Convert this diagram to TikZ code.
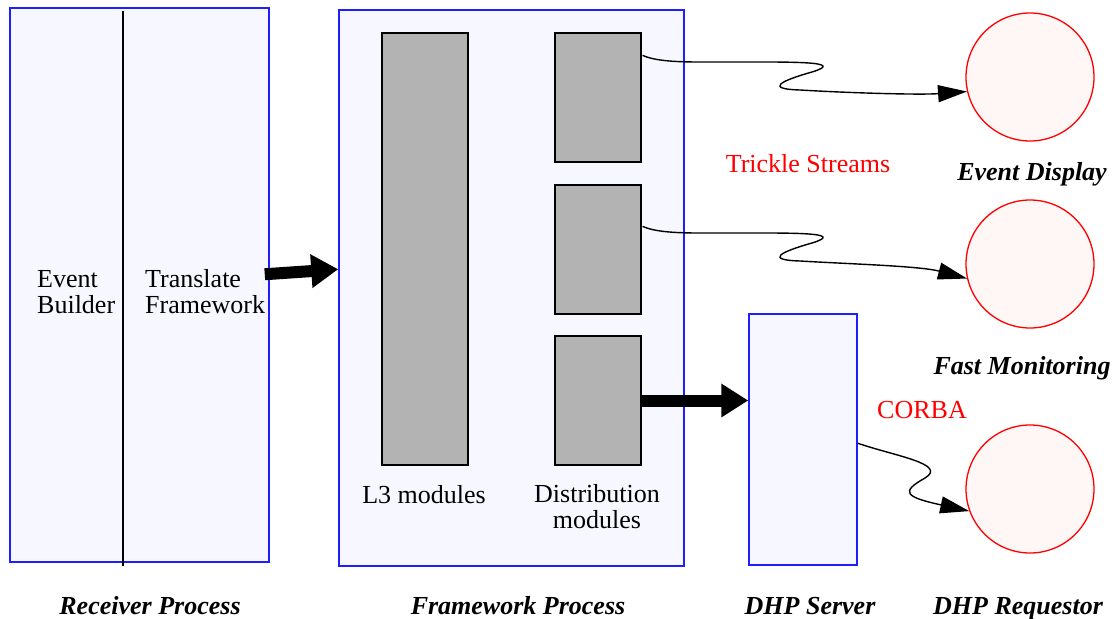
\documentclass[tikz,border=0pt]{standalone}
\usepackage{fontspec}
\setmainfont{Liberation Serif}
\usetikzlibrary{arrows.meta,calc}
\definecolor{boxfill}{RGB}{247,247,255}
\definecolor{boxblue}{RGB}{30,30,255}
\definecolor{modgray}{RGB}{179,179,179}
\definecolor{circfill}{RGB}{255,246,246}
\tikzset{
  procbox/.style={draw=boxblue, fill=boxfill, line width=1.5pt, inner sep=0pt},
  modbox/.style={draw=black, fill=modgray, line width=1.2pt, inner sep=0pt, minimum width=86pt},
  endpoint/.style={circle, draw=red, fill=circfill, line width=1.3pt, minimum size=128pt, inner sep=0pt},
  txt/.style={font=\fontsize{26}{26}\selectfont, inner sep=0pt},
  title/.style={font=\fontsize{26}{26}\selectfont\bfseries\itshape, inner sep=0pt, anchor=base},
  redtxt/.style={txt, text=red, anchor=base},
  wavy/.style={draw=black, line width=1.4pt, -{Triangle[length=29pt,width=17pt]}},
  bigarrow/.style={draw=black, line width=12pt, -{Triangle[length=27pt,width=32pt]}},
  divider/.style={draw=black, line width=1.2pt}
}
\begin{document}
\begin{tikzpicture}[x=1pt,y=-1pt]
\useasboundingbox (0,0) rectangle (1115,618);
% process boxes
\node[procbox, minimum width=259pt, minimum height=554pt] (r) at (139.5,285) {};
\node[procbox, minimum width=345pt, minimum height=556pt] (f) at (511.5,288) {};
\node[procbox, minimum width=108pt, minimum height=251pt] (s) at (803,439.5) {};
\draw[divider] (123,11) -- (123,566);
% modules
\node[modbox, minimum height=432pt] (l3) at (425,249) {};
\node[modbox, minimum height=129pt] (d1) at (598,97.5) {};
\node[modbox, minimum height=129pt] (d2) at (598,249.5) {};
\node[modbox, minimum height=129pt] (d3) at (598,400.5) {};
% endpoints
\node[endpoint] (c1) at (1030,77) {};
\node[endpoint] (c2) at (1030,264) {};
\node[endpoint] (c3) at (1030,489) {};
% texts
\node[txt, align=left, anchor=west] (eb) at (37,292) {Event\\Builder};
\node[txt, align=left, anchor=west] (tf) at (145,292) {Translate\\Framework};
\node[txt, anchor=base] (l3t) at (424,503) {L3 modules};
\node[txt, align=center] (dmt) at (597,507) {Distribution\\modules};
\node[redtxt] (ts) at (808,172) {Trickle Streams};
\node[redtxt] (cb) at (922,418) {CORBA};
\node[title] (ed) at (1032,180) {Event Display};
\node[title] (fm) at (1022,374) {Fast Monitoring};
\node[title] (dr) at (1018,614) {DHP Requestor};
\node[title] (ds) at (810,614) {DHP Server};
\node[title] (fp) at (518,614) {Framework Process};
\node[title] (rp) at (150,614) {Receiver Process};
% thick arrows
\draw[bigarrow] ($(r.north east)+(-5,267)$) -- ($(f.north west)+(0,260)$);
\draw[bigarrow] (d3.east) -- (d3.east -| s.west);
% wavy connectors
\draw[wavy] ($(d1.north east)+(1,23)$) .. controls (660,63) and (690,62) .. (730,62)
  .. controls (790,62) and (848,61) .. (812,72)
  .. controls (780,81) and (765,89) .. (800,90)
  .. controls (850,93) and (920,95) .. (c1.193);
\draw[wavy] ($(d2.north east)+(1,42)$) .. controls (660,234) and (690,233) .. (730,233)
  .. controls (790,233) and (848,232) .. (812,243)
  .. controls (780,252) and (765,260) .. (800,261)
  .. controls (850,264) and (920,266) .. (c2.193);
\draw[wavy] ($(s.north east)+(0,130)$) .. controls (895,456) and (948,464) .. (925,478)
  .. controls (900,492) and (905,497) .. (c3.200);
\end{tikzpicture}
\end{document}
